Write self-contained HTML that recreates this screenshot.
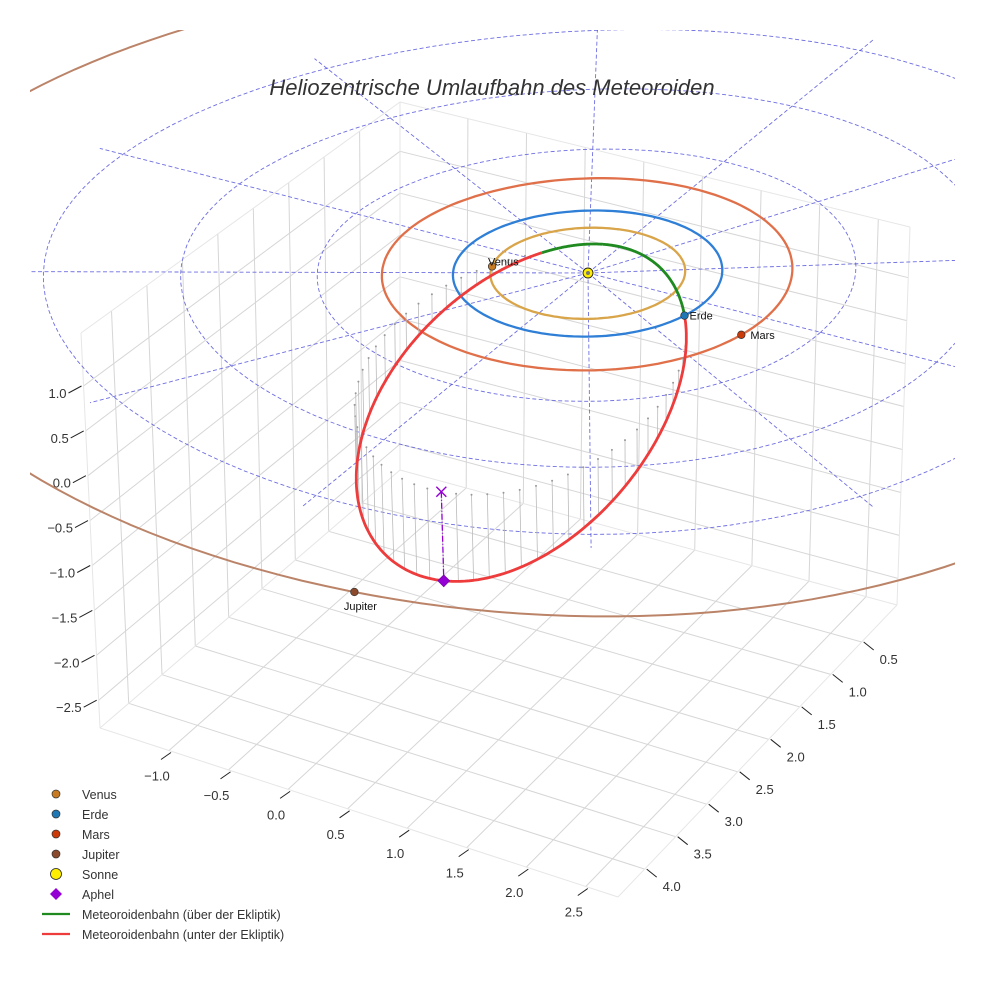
<!DOCTYPE html>
<html><head><meta charset="utf-8">
<style>
html,body{margin:0;padding:0;background:#fff;}
svg{display:block;font-family:"Liberation Sans",sans-serif;}
</style></head>
<body>
<svg id="chart" width="984" height="984" viewBox="0 0 984 984" xmlns="http://www.w3.org/2000/svg">
<defs><clipPath id="clip"><rect x="30" y="30" width="925" height="954"/></clipPath></defs>
<rect width="984" height="984" fill="#fff"/>
<g id="grid"></g>
<g id="ticks"></g>
<g id="plot" clip-path="url(#clip)"></g>
<g id="marks"></g>
<text x="492" y="95" text-anchor="middle" font-size="22" font-style="italic" fill="#333">Heliozentrische Umlaufbahn des Meteoroiden</text>
<g id="legend"></g>
</svg>
<script>
// ---- data ----
const xTicks = [-1.0,-0.5,0.0,0.5,1.0,1.5,2.0,2.5];
const yTicks = [0.5,1.0,1.5,2.0,2.5,3.0,3.5,4.0];
const zTicks = [1.0,0.5,0.0,-0.5,-1.0,-1.5,-2.0,-2.5];
const planetNames = ["Venus","Erde","Mars","Jupiter"];
const planetRadii = [0.723,1.0,1.524,5.2];
const planetAngles = [160,14,11.5,79.5];
const planetColors = ["#c87a20","#1f77b4","#cc3a0a","#8b4a2b"];
const orbitColors = ["#d9a54a","#2f7fd6","#e0704a","#bb8469"];
const gridRadii = [1,2,3,4];
const gridAngles = [0,30,60,90,120,150,180,210,240,270,300,330];
const aphelXYZ = [0.75,3.47,-0.98];
const nodeXYZ = [0.970,0.242,0.0];

// ---- projection (box corners in screen, decorative geometry) ----
const C = {BK:[400,470],BKt:[400,102],FL:[100,728],FLt:[81,333],FR:[897,605],FRt:[910,227],FB:[618,897],FBt:[605,480]};
const xr=[-1.579,2.77], yr=[-0.07,4.43], zr=[-2.81,1.59];
function B(u,v,w){
  const bl=(a,b,c,d,i)=>(1-u)*(1-v)*a[i]+u*(1-v)*b[i]+(1-u)*v*c[i]+u*v*d[i];
  const b0=[bl(C.BK,C.FR,C.FL,C.FB,0),bl(C.BK,C.FR,C.FL,C.FB,1)];
  const b1=[bl(C.BKt,C.FRt,C.FLt,C.FBt,0),bl(C.BKt,C.FRt,C.FLt,C.FBt,1)];
  return [b0[0]+(b1[0]-b0[0])*w,b0[1]+(b1[1]-b0[1])*w];
}
function raw(x,y,z){return B((x-xr[0])/(xr[1]-xr[0]),(y-yr[0])/(yr[1]-yr[0]),(z-zr[0])/(zr[1]-zr[0]));}
const s0=raw(0,0,0), OFF=[588-s0[0],273-s0[1]];
function P(x,y,z){const p=raw(x,y,z);return [p[0]+OFF[0],p[1]+OFF[1]];}
const fx=v=>(v-xr[0])/(xr[1]-xr[0]), fy=v=>(v-yr[0])/(yr[1]-yr[0]), fz=v=>(v-zr[0])/(zr[1]-zr[0]);

const NS="http://www.w3.org/2000/svg";
function mk(tag,attrs,parent){const e=document.createElementNS(NS,tag);for(const k in attrs)e.setAttribute(k,attrs[k]);parent.appendChild(e);return e;}
function line(a,b,st,parent){return mk("line",Object.assign({x1:a[0].toFixed(1),y1:a[1].toFixed(1),x2:b[0].toFixed(1),y2:b[1].toFixed(1)},st),parent);}
function pathD(pts){return pts.map((p,i)=>(i?"L":"M")+p[0].toFixed(1)+","+p[1].toFixed(1)).join("");}

// ---- box grid ----
const grid=document.getElementById("grid");
const gs={stroke:"#d6d6d6","stroke-width":1};
const edge={stroke:"#e6e6e6","stroke-width":1};
xTicks.forEach(t=>{const u=fx(t);
  let l=line(B(u,0,0),B(u,0,1),gs,grid);  
  l=line(B(u,0,0),B(u,1,0),gs,grid);  });
yTicks.forEach(t=>{const v=fy(t);
  let l=line(B(0,v,0),B(0,v,1),gs,grid);  
  l=line(B(0,v,0),B(1,v,0),gs,grid);  });
zTicks.forEach(t=>{const w=fz(t);
  let l=line(B(0,0,w),B(0,1,w),gs,grid);  
  l=line(B(0,0,w),B(1,0,w),gs,grid);  });
[[B(0,0,0),B(0,0,1)],[B(0,0,1),B(0,1,1)],[B(0,0,1),B(1,0,1)],[B(0,1,0),B(0,1,1)],[B(1,0,0),B(1,0,1)],[B(0,1,0),B(1,1,0)],[B(1,0,0),B(1,1,0)],[B(0,0,0),B(0,1,0)],[B(0,0,0),B(1,0,0)]].forEach(e=>{const l=line(e[0],e[1],edge,grid);});

// ---- ticks ----
const tk=document.getElementById("ticks");
const ts={stroke:"#222","stroke-width":1};
zTicks.forEach(t=>{const p=B(0,1,fz(t));
  const l=line([p[0]-2,p[1]],[p[0]-15,p[1]+7],ts,tk);  
  const tx=mk("text",{x:p[0]-17,y:p[1]+12,"text-anchor":"end","font-size":13,fill:"#333"},tk); tx.textContent=t.toFixed(1).replace("-","−");
   });
xTicks.forEach(t=>{const p=B(fx(t),1,0);
  const l=line([p[0]+2,p[1]+2],[p[0]-8,p[1]+9],ts,tk);  
  const tx=mk("text",{x:p[0]-12,y:p[1]+30,"text-anchor":"middle","font-size":13,fill:"#333"},tk); tx.textContent=t.toFixed(1).replace("-","−");
   });
yTicks.forEach(t=>{const p=B(1,fy(t),0);
  const l=line([p[0]+2,p[1]],[p[0]+12,p[1]+8],ts,tk);  
  const tx=mk("text",{x:p[0]+18,y:p[1]+22,"text-anchor":"start","font-size":13,fill:"#333"},tk); tx.textContent=t.toFixed(1);
   });

// ---- plot ----
const plot=document.getElementById("plot");
const dash={fill:"none",stroke:"#5555dd","stroke-width":0.9,"stroke-dasharray":"4,2.5","stroke-opacity":0.85};
gridRadii.forEach(r=>{const pts=[];for(let a=0;a<=360;a+=3){const t=a*Math.PI/180;pts.push(P(r*Math.cos(t),r*Math.sin(t),0));}
  const e=mk("path",Object.assign({d:pathD(pts)},dash),plot);  });
const rMax=gridRadii[gridRadii.length-1]*1.05;
gridAngles.forEach(a=>{const t=a*Math.PI/180;
  const e=mk("path",Object.assign({d:pathD([P(0,0,0),P(rMax*Math.cos(t),rMax*Math.sin(t),0)])},dash),plot);  });
planetRadii.forEach((r,i)=>{const pts=[];for(let a=0;a<=360;a+=2){const t=a*Math.PI/180;pts.push(P(r*Math.cos(t),r*Math.sin(t),0));}
  const e=mk("path",{d:pathD(pts),fill:"none",stroke:orbitColors[i],"stroke-width":i==3?2:2.3},plot);
   });

// meteoroid orbit
const norm=v=>Math.hypot(v[0],v[1],v[2]);
const dot=(a,b)=>a[0]*b[0]+a[1]*b[1]+a[2]*b[2];
const Q=norm(aphelXYZ);
const Pv=aphelXYZ.map(c=>-c/Q);
const eP=dot(nodeXYZ,Pv);
let Wv=[0,1,2].map(k=>nodeXYZ[k]-eP*Pv[k]); const wn=norm(Wv); Wv=Wv.map(c=>c/wn);
const rE=norm(nodeXYZ), cE=eP/rE;
const ecc=(Q-rE)/(Q+rE*cE);
const pp=Q*(1-ecc);
function orbitPt(nu){const r=pp/(1+ecc*Math.cos(nu));return [0,1,2].map(k=>r*(Math.cos(nu)*Pv[k]+Math.sin(nu)*Wv[k]));}
const mpts=[];for(let i=0;i<=720;i++){mpts.push(orbitPt(i/720*2*Math.PI));}
// stems (sampled in eccentric anomaly)
for(let i=0;i<64;i++){const E=i/64*2*Math.PI;
  const nu=2*Math.atan2(Math.sqrt(1+ecc)*Math.sin(E/2),Math.sqrt(1-ecc)*Math.cos(E/2));
  const q=orbitPt(nu); if(q[2]>=-0.02) continue;
  const a=P(q[0],q[1],q[2]), b=P(q[0],q[1],0);
  const l=line(a,b,{stroke:"#bbbbbb","stroke-width":0.8},plot);  
  const d=mk("circle",{cx:b[0].toFixed(1),cy:b[1].toFixed(1),r:1,fill:"#999"},plot);  }
// split above/below
let segs=[],cur=null;
mpts.forEach(q=>{const up=q[2]>=0;if(!cur||cur.up!==up){if(cur)cur.pts.push(P(q[0],q[1],q[2]));cur={up,pts:[]};segs.push(cur);}cur.pts.push(P(q[0],q[1],q[2]));});
segs.forEach(s=>{const e=mk("path",{d:pathD(s.pts),fill:"none",stroke:s.up?"#1f8a1f":"#ee3b3b","stroke-width":2.8,"stroke-linejoin":"round"},plot);
   });
// aphel dashed
const aS=P(aphelXYZ[0],aphelXYZ[1],aphelXYZ[2]), a0=P(aphelXYZ[0],aphelXYZ[1],0);
let al=line(a0,aS,{stroke:"#9400d3","stroke-width":1.3,"stroke-dasharray":"6,2,1,2"},plot);  

// ---- markers ----
const mg=document.getElementById("marks");
planetRadii.forEach((r,i)=>{const t=planetAngles[i]*Math.PI/180;const p=P(r*Math.cos(t),r*Math.sin(t),0);
  const c=mk("circle",{cx:p[0].toFixed(1),cy:p[1].toFixed(1),r:3.8,fill:planetColors[i],stroke:"#333","stroke-width":0.7},mg);
   
  let at;
  if(i==3) at={x:p[0]+6,y:p[1]+18,"text-anchor":"middle"};
  else if(i==0) at={x:p[0]-4,y:p[1]-1,"text-anchor":"start"};
  else at={x:p[0]+(i==2?9:5),y:p[1]+4,"text-anchor":"start"};
  const tx=mk("text",Object.assign({"font-size":11,fill:"#111"},at),mg); tx.textContent=planetNames[i];
   });
const sp=P(0,0,0);
let sun=mk("circle",{cx:sp[0],cy:sp[1],r:5,fill:"#ffee00",stroke:"#222","stroke-width":0.9},mg);  
let sun2=mk("circle",{cx:sp[0],cy:sp[1],r:2,fill:"#777"},mg);  
let ax=mk("path",{d:`M${a0[0]-5},${a0[1]-5}L${a0[0]+5},${a0[1]+5}M${a0[0]-5},${a0[1]+5}L${a0[0]+5},${a0[1]-5}`,stroke:"#9400d3","stroke-width":1.4},mg);  
let ad=mk("path",{d:`M${aS[0]},${aS[1]-6}L${aS[0]+6},${aS[1]}L${aS[0]},${aS[1]+6}L${aS[0]-6},${aS[1]}Z`,fill:"#9400d3",stroke:"#6a0099","stroke-width":0.6},mg);  

// ---- legend ----
const lg=document.getElementById("legend");
const legendLabels=["Venus","Erde","Mars","Jupiter","Sonne","Aphel","Meteoroidenbahn (über der Ekliptik)","Meteoroidenbahn (unter der Ekliptik)"];
legendLabels.forEach((lab,i)=>{const y=795+i*20;
  let m;
  if(i<4) m=mk("circle",{cx:56,cy:y-1,r:4,fill:planetColors[i],stroke:"#333","stroke-width":0.7},lg);
  else if(i==4) m=mk("circle",{cx:56,cy:y-1,r:5.5,fill:"#ffee00",stroke:"#222","stroke-width":0.8},lg);
  else if(i==5) m=mk("path",{d:`M56,${y-7}L62,${y-1}L56,${y+5}L50,${y-1}Z`,fill:"#9400d3"},lg);
  else m=mk("line",{x1:42,y1:y-1,x2:70,y2:y-1,stroke:i==6?"#1f8a1f":"#ee3b3b","stroke-width":2.2},lg);
   
  const tx=mk("text",{x:82,y:y+4,"font-size":12.5,fill:"#333"},lg); tx.textContent=lab;
   });
</script>
</body></html>
